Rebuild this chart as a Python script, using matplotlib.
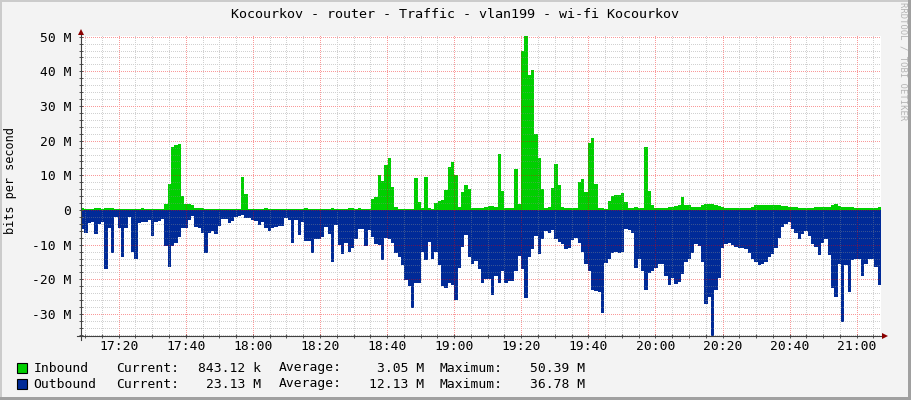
import matplotlib
matplotlib.use("Agg")
import matplotlib.pyplot as plt
import numpy as np
from matplotlib.ticker import FixedLocator, MultipleLocator
from matplotlib.patches import Rectangle, Polygon
from matplotlib.lines import Line2D

plt.rcParams['font.family'] = ['DejaVu Sans Mono']

# ---------------- data ----------------
title = "Kocourkov - router - Traffic - vlan199 - wi-fi Kocourkov"
ylabel = "bits per second"

# time window, minutes after 17:00
t_start, t_end = 8.76, 247.25

# one value per minute, Mbit/s
inbound = [
    0.5, 0.2, 0.2, 0.2, 0.5, 0.5, 0.3, 0.5, 0.5, 0.5,
    0.2, 0.2, 0.2, 0.2, 0.2, 0.2, 0.2, 0.2, 0.5, 0.2,
    0.2, 0.2, 0.2, 0.2, 0.2, 1.8, 7.5, 18.2, 18.8, 19.1,
    4.0, 1.6, 1.8, 1.5, 0.5, 0.5, 0.5, 0.3, 0.3, 0.3,
    0.3, 0.3, 0.3, 0.3, 0.3, 0.3, 0.3, 0.3, 9.6, 4.5,
    0.4, 0.3, 0.3, 0.3, 0.4, 0.5, 0.4, 0.3, 0.3, 0.3,
    0.3, 0.3, 0.3, 0.3, 0.3, 0.3, 0.3, 0.5, 0.3, 0.3,
    0.3, 0.3, 0.3, 0.3, 0.3, 0.5, 0.3, 0.3, 0.3, 0.2,
    0.5, 0.5, 0.3, 0.6, 0.3, 0.3, 0.3, 3.1, 3.8, 10.1,
    8.5, 13.0, 14.9, 6.7, 0.8, 0.4, 0.4, 0.4, 0.4, 0.4,
    9.1, 2.4, 0.5, 9.4, 0.5, 0.3, 1.9, 2.7, 2.9, 5.8,
    12.3, 13.8, 10.1, 0.8, 5.3, 7.3, 6.0, 0.6, 0.5, 0.5,
    0.5, 0.8, 1.2, 1.2, 1.0, 16.3, 5.6, 0.7, 0.7, 0.6,
    11.7, 1.7, 46.0, 50.39, 39.0, 40.4, 22.0, 15.0, 6.0, 0.5,
    0.8, 6.3, 13.3, 7.2, 0.8, 0.5, 0.5, 0.5, 0.7, 8.2,
    9.0, 5.2, 19.4, 20.7, 7.6, 0.5, 0.5, 0.4, 2.7, 4.0,
    4.3, 4.3, 4.8, 2.4, 0.5, 0.5, 0.8, 0.7, 0.7, 18.1,
    5.6, 1.4, 0.7, 0.7, 0.7, 0.7, 0.8, 1.0, 1.2, 1.4,
    3.8, 1.4, 1.3, 1.0, 1.0, 1.0, 1.5, 1.7, 1.7, 1.6,
    1.4, 1.2, 1.0, 0.6, 0.5, 0.5, 0.5, 0.5, 0.5, 0.5,
    0.5, 1.0, 1.3, 1.5, 1.5, 1.4, 1.3, 1.3, 1.4, 1.5,
    1.2, 1.1, 1.0, 1.0, 0.9, 0.7, 0.7, 0.7, 0.7, 0.7,
    0.8, 0.8, 0.8, 0.8, 0.9, 1.3, 1.7, 1.1, 1.0, 0.9,
    0.8, 0.8, 0.7, 0.6, 0.6, 0.6, 0.6, 0.6, 0.7, 0.84,
]
outbound = [
    5.5, 6.5, 3.8, 3.6, 6.9, 4.0, 3.5, 17.1, 5.3, 12.3,
    2.0, 5.3, 13.7, 5.3, 1.9, 12.0, 14.2, 3.8, 3.6, 3.6,
    2.9, 7.5, 3.4, 3.1, 2.7, 10.4, 16.3, 10.4, 9.4, 7.7,
    5.3, 5.3, 2.9, 1.7, 5.0, 5.3, 6.7, 12.5, 6.5, 6.0,
    7.0, 4.5, 2.5, 2.5, 3.8, 3.2, 2.0, 1.8, 1.4, 2.4,
    2.4, 3.0, 3.3, 4.3, 3.5, 5.3, 6.0, 5.3, 4.8, 4.5,
    4.5, 2.3, 2.8, 9.6, 2.9, 7.3, 3.5, 8.8, 8.8, 12.5,
    8.5, 8.5, 7.7, 5.0, 6.9, 14.9, 4.3, 10.1, 12.8, 9.6,
    12.0, 11.0, 8.5, 5.6, 5.6, 10.4, 5.8, 7.8, 9.8, 10.2,
    14.5, 8.0, 8.5, 9.5, 12.5, 13.6, 15.8, 20.2, 22.0, 28.4,
    21.0, 21.0, 12.0, 14.4, 9.1, 14.2, 12.0, 16.0, 22.0, 22.6,
    21.0, 21.5, 26.0, 16.8, 10.6, 7.2, 13.5, 15.5, 14.6, 17.1,
    21.0, 20.0, 20.0, 24.5, 19.0, 21.0, 17.5, 21.0, 20.5, 20.5,
    17.5, 13.2, 17.0, 25.5, 13.6, 11.2, 7.6, 12.8, 8.5, 6.0,
    6.6, 5.9, 8.5, 9.1, 9.7, 11.3, 11.1, 8.6, 8.0, 9.6,
    12.2, 15.5, 17.5, 23.1, 23.5, 23.8, 29.8, 15.2, 14.0, 12.5,
    12.2, 12.5, 12.0, 5.5, 5.8, 6.6, 16.6, 14.2, 17.5, 23.2,
    18.3, 17.6, 16.6, 15.5, 15.5, 19.0, 21.5, 19.5, 21.3, 20.7,
    18.5, 15.0, 14.2, 12.5, 9.9, 10.5, 15.0, 27.0, 25.0, 36.78,
    23.0, 19.5, 11.0, 9.8, 9.4, 10.0, 10.7, 11.0, 11.0, 11.2,
    12.5, 14.0, 15.0, 15.9, 15.5, 15.0, 13.7, 12.7, 11.1, 8.0,
    4.9, 4.1, 3.4, 5.5, 6.6, 8.5, 7.0, 6.2, 7.5, 9.8,
    10.6, 13.0, 9.5, 8.5, 13.0, 22.6, 25.0, 15.6, 32.3, 15.8,
    23.6, 14.5, 14.2, 14.0, 18.9, 15.7, 14.0, 14.2, 16.5, 21.5,
]

xtick_min = [20, 40, 60, 80, 100, 120, 140, 160, 180, 200, 220, 240]
xtick_labels = ['17:20', '17:40', '18:00', '18:20', '18:40', '19:00',
                '19:20', '19:40', '20:00', '20:20', '20:40', '21:00']
ytick_vals = [50, 40, 30, 20, 10, 0, -10, -20, -30]
ytick_labels = ['50 M', '40 M', '30 M', '20 M', '10 M', '0',
                '-10 M', '-20 M', '-30 M']

legend_names = ['Inbound', 'Outbound']
legend_current = ['843.12 k', '23.13 M']
legend_average = ['3.05 M', '12.13 M']
legend_maximum = ['50.39 M', '36.78 M']

GREEN = '#00CF00'
BLUE = '#002A97'
legend_colors = [GREEN, BLUE]

# ---------------- figure ----------------
W, H = 911, 400
PX0, PY0 = 81, 64          # plot area origin (pixels from bottom left)
PW, PH = 800, 300          # plot area size in pixels
fig = plt.figure(figsize=(W / 100, H / 100), dpi=100, facecolor='#F3F3F3')


def fx(px):
    return px / W


def fy(py):
    return 1 - py / H


ax = fig.add_axes([PX0 / W, PY0 / H, PW / W, PH / H])
ax.set_facecolor('white')
y_lo, y_hi = -36.35, 50.2

edges = np.linspace(t_start, t_end, len(inbound) + 1)
ax.stairs(np.array(inbound), edges, baseline=0, fill=True,
          color=GREEN, linewidth=0, zorder=1)
ax.stairs(-np.array(outbound), edges, baseline=0, fill=True,
          color=BLUE, linewidth=0, zorder=1)

ax.set_xlim(t_start, t_end)
ax.set_ylim(y_lo, y_hi)

ax.xaxis.set_major_locator(FixedLocator(xtick_min))
ax.xaxis.set_minor_locator(MultipleLocator(5))
ax.set_xticklabels(xtick_labels)
ax.yaxis.set_major_locator(FixedLocator(ytick_vals))
ax.yaxis.set_minor_locator(MultipleLocator(2))
ax.set_yticklabels(ytick_labels)

ax.tick_params(which='both', direction='inout', length=3, width=0.7, color='#555555')
ax.tick_params(axis='x', which='major', labelsize=9.4, pad=1.5)
ax.tick_params(axis='y', which='major', labelsize=9.4, pad=5.5)

for s in ['top', 'right', 'left', 'bottom']:
    ax.spines[s].set_visible(False)

# dotted rrdtool grid (1 px on / 1 px off), laid over the areas pixel by pixel
grid = np.zeros((PH, PW, 4))
minor_col = (0.55, 0.55, 0.55, 0.4)
major_col = (0.95, 0.0, 0.0, 0.4)


def col_of(t):
    return int(round((t - t_start) / (t_end - t_start) * PW))


def row_of(v):
    return int(round((y_hi - v) / (y_hi - y_lo) * PH))


for colr, xs, ys in [(minor_col, np.arange(10, 250, 5), np.arange(-36, 51, 2)),
                     (major_col, xtick_min, ytick_vals)]:
    for t in xs:
        c = col_of(t)
        if 0 <= c < PW:
            grid[0::2, c] = colr
    for v in ys:
        r = row_of(v)
        if 0 <= r < PH:
            grid[r, 0::2] = colr

fig.figimage(grid, xo=PX0, yo=PY0, origin='upper', zorder=1)

# axis lines with arrows
axis_col = '#404040'
fig.add_artist(Line2D([fx(77), fx(884)], [fy(336), fy(336)], color=axis_col, lw=0.8, zorder=3))
fig.add_artist(Line2D([fx(81), fx(81)], [fy(340), fy(32)], color=axis_col, lw=0.8, zorder=3))
arrow_col = '#8B0000'
fig.add_artist(Polygon([(fx(882), fy(333)), (fx(882), fy(339)), (fx(888), fy(336))],
                       closed=True, color=arrow_col, lw=0, zorder=3))
fig.add_artist(Polygon([(fx(78), fy(35)), (fx(84), fy(35)), (fx(81), fy(29))],
                       closed=True, color=arrow_col, lw=0, zorder=3))

# texts
fig.text(fx(455), fy(15), title, ha='center', va='center', fontsize=9.6, color='black')
fig.text(fx(11), fy(181), ylabel, rotation=90, ha='center', va='center', fontsize=8.6)
fig.text(fx(903), fy(61), 'RRDTOOL / TOBI OETIKER', rotation=270, ha='center',
         va='center', fontsize=6.4, color='#B4B4B4')

# legend
row_y = [368, 384]
for i in range(2):
    y = row_y[i]
    fig.add_artist(Rectangle((fx(17), fy(y + 5)), 10 / W, 10 / H,
                             facecolor=legend_colors[i], edgecolor='black', lw=0.8))
    fig.text(fx(33.5), fy(y), legend_names[i], ha='left', va='center', fontsize=9.4)
    fig.text(fx(116), fy(y), 'Current:', ha='left', va='center', fontsize=9.4)
    fig.text(fx(261), fy(y), legend_current[i], ha='right', va='center', fontsize=9.4)
    fig.text(fx(279), fy(y), 'Average:', ha='left', va='center', fontsize=9.4)
    fig.text(fx(424), fy(y), legend_average[i], ha='right', va='center', fontsize=9.4)
    fig.text(fx(440), fy(y), 'Maximum:', ha='left', va='center', fontsize=9.4)
    fig.text(fx(585), fy(y), legend_maximum[i], ha='right', va='center', fontsize=9.4)

# shaded border of the image
fig.add_artist(Rectangle((0, 0), fx(2), 1, facecolor='#CBCBCB', lw=0))
fig.add_artist(Rectangle((0, fy(2)), 1, 2 / H, facecolor='#CBCBCB', lw=0))
fig.add_artist(Rectangle((fx(908), 0), 3 / W, 1, facecolor='#A0A0A0', lw=0))
fig.add_artist(Rectangle((0, 0), 1, 3 / H, facecolor='#A0A0A0', lw=0))

fig.savefig('out.png', dpi=100, facecolor=fig.get_facecolor())
